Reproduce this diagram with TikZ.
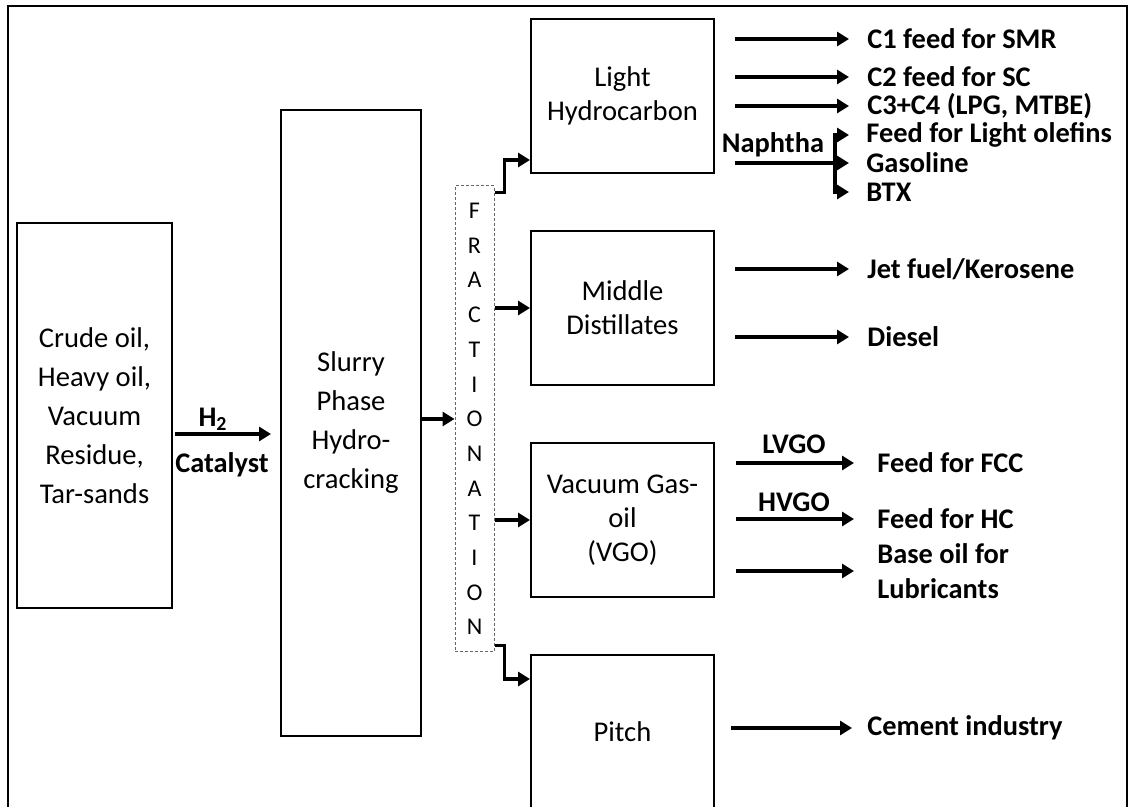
\documentclass[tikz,border=0pt]{standalone}
\usepackage{fontspec}
\setmainfont{Carlito}
\usetikzlibrary{arrows.meta,calc}

\begin{document}
\begin{tikzpicture}[x=0.5pt, y=-0.5pt,
    box/.style={draw, line width=1pt, inner sep=0pt, align=center, minimum width=91.5pt, minimum height=77pt, font=\fontsize{14.3}{17}\selectfont},
    flow/.style={line width=1.7pt, -{Triangle[length=6pt,width=7pt]}},
    prod/.style={anchor=west, inner sep=0pt, align=left, font=\fontsize{14.2}{17.5}\selectfont\bfseries},
    tag/.style={inner sep=0pt, font=\fontsize{14.2}{17}\selectfont\bfseries}]
  % frame, open at the bottom
  \useasboundingbox (0,0) rectangle (1131,807);
  \clip (0,0) rectangle (1131,807);
  \draw[line width=1pt] (8,6) rectangle (1127,840);

  % process units
  \node[box, minimum width=77.5pt, minimum height=192.5pt, font=\fontsize{14.3}{19.5}\selectfont] (feed) at (94.5,415.5) {Crude oil,\\Heavy oil,\\Vacuum\\Residue,\\Tar-sands};
  \node[box, minimum width=70pt, minimum height=313pt, font=\fontsize{14.3}{19.5}\selectfont] (spc) at (351,423) {Slurry\\Phase\\Hydro-\\cracking};
  \node[draw=black!60, dash pattern=on 1.5pt off 1pt, line width=0.5pt, minimum width=19.5pt, minimum height=233pt, inner sep=0pt, align=center, font=\fontsize{12}{17.35}\selectfont] (frac) at (474.5,419) {F\\R\\A\\C\\T\\I\\O\\N\\A\\T\\I\\O\\N};
  \node[box] (lhc) at (622.5,96) {Light\\Hydrocarbon};
  \node[box] (mid) at (622.5,308) {Middle\\Distillates};
  \node[box] (vgo) at (622.5,520) {Vacuum Gas-\\oil\\(VGO)};
  \node[box] (pitch) at (622.5,732) {Pitch};

  % products
  \node[prod] (c1) at (867,39) {C1 feed for SMR};
  \node[prod] (c2) at (867,77) {C2 feed for SC};
  \node[prod] (c34) at (867,106) {C3+C4 (LPG, MTBE)};
  \node[prod] (olef) at (866,135) {Feed for Light olefins};
  \node[prod] (gaso) at (866,163) {Gasoline};
  \node[prod] (btx) at (866,192) {BTX};
  \node[prod] (jet) at (867,269) {Jet fuel/Kerosene};
  \node[prod] (dsl) at (867,337) {Diesel};
  \node[prod] (fcc) at (877,463) {Feed for FCC};
  \node[prod] (hc) at (877,519) {Feed for HC};
  \node[prod] (base) at (877,571) {Base oil for\\Lubricants};
  \node[prod] (cem) at (867,728) {Cement industry};

  % stream labels
  \node[tag] (h2) at (213,419) {H\textsubscript{2}};
  \node[tag] (cat) at (222,465) {Catalyst};
  \node[tag] (nap) at (773,145) {Naphtha};
  \node[tag] (lv) at (794,444) {LVGO};
  \node[tag] (hv) at (794,502) {HVGO};

  % feed to fractionation
  \coordinate (h2in) at (175,434);
  \draw[flow, shorten >=4.5pt] (h2in) -- (h2in -| spc.west);
  \draw[flow] (spc.east |- frac.west) -- (frac.west);
  \draw[flow] ($(frac.north east)+(0,7)$) -- ++(10,0) |- ($(lhc.south west)+(0,-14)$);
  \draw[flow] (frac.east |- mid.west) -- (mid.west);
  \draw[flow] (frac.east |- vgo.west) -- (vgo.west);
  \draw[flow] ($(frac.south east)+(0,-7)$) -- ++(10,0) |- ($(pitch.north west)+(0,25)$);

  % product streams
  \foreach \t in {c1,c2,c34}
    \draw[flow, shorten <=10pt, shorten >=9pt] (lhc.east |- \t.west) -- (\t.west);
  \draw[flow, shorten <=10pt, shorten >=8.5pt] (lhc.east |- gaso.west) -- (gaso.west);
  \coordinate (nbr) at (835,163);
  \foreach \t in {olef,btx}
    \draw[flow, shorten >=8.5pt] (nbr) |- (\t.west);
  \foreach \t in {jet,dsl}
    \draw[flow, shorten <=10pt, shorten >=9pt] (mid.east |- \t.west) -- (\t.west);
  \foreach \t in {fcc,hc,base}
    \draw[flow, shorten <=10.5pt, shorten >=11.5pt] (vgo.east |- \t.west) -- (\t.west);
  \draw[flow, shorten <=8pt, shorten >=7.5pt] (pitch.east |- cem.west) -- (cem.west);
\end{tikzpicture}
\end{document}
